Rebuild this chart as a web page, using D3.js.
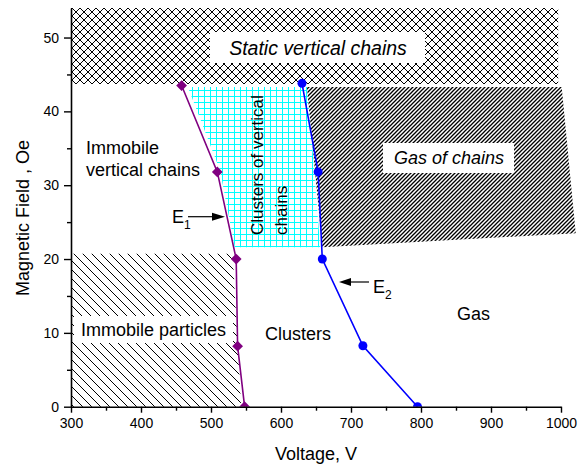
<!DOCTYPE html>
<html>
<head>
<meta charset="utf-8">
<script src="https://cdn.jsdelivr.net/npm/d3@7"></script>
<style>
  html, body { margin: 0; padding: 0; background: #fff; }
  svg { display: block; font-family: "Liberation Sans", Arial, sans-serif; }
</style>
</head>
<body>
<svg id="chart" width="586" height="464"></svg>
<script>
// Phase boundary E1 (purple diamonds)
const voltageE1 = [458, 509, 536, 538, 548];
const fieldE1   = [43.5, 31.8, 20.0, 8.2, 0];
// Phase boundary E2 (blue circles)
const voltageE2 = [630, 653, 659, 717, 795];
const fieldE2   = [43.8, 31.8, 20.0, 8.25, 0];

// Region outlines, [voltage, field]
const staticChainsRegion = [[300, 54], [996, 54], [996, 43.7], [300, 43.7]];
const clusterChainsRegion = [[467, 43.3], [638, 43.3], [656, 21.6], [534, 21.6], [513, 32.0]];
const gasChainsRegion = [[637, 43.3], [1001, 43.3], [1021, 23.5], [659, 21.6]];
const immobileRegion = [[300, 20.7], [531, 20.7], [543, 0], [300, 0]];

// Axis ticks
const xMajorTicks = [300, 400, 500, 600, 700, 800, 900, 1000];
const xMinorTicks = [350, 450, 550, 650, 750, 850, 950];
const yMajorTicks = [0, 10, 20, 30, 40, 50];
const yMinorTicks = [5, 15, 25, 35, 45];

const svg = d3.select("#chart");
const x = d3.scaleLinear().domain([300, 1000]).range([71, 561]);
const y = d3.scaleLinear().domain([0, 54]).range([406.7, 8]);

const defs = svg.append("defs");

function pattern(id, size, d, stroke, width, crisp) {
  const p = defs.append("pattern").attr("id", id)
    .attr("patternUnits", "userSpaceOnUse").attr("width", size).attr("height", size);
  p.append("rect").attr("width", size).attr("height", size).attr("fill", "#fff");
  p.append("path").attr("d", d).attr("stroke", stroke).attr("stroke-width", width)
    .attr("fill", "none").attr("shape-rendering", crisp ? "crispEdges" : "auto");
}
// cross-hatch, wide backslash hatch, dense slash hatch, cyan grid
pattern("cross", 8, "M-1,-1 L9,9 M9,-1 L-1,9", "#000", 1, true);
pattern("back", 9, "M-1,-1 L10,10 M-1,8 L1,10 M8,-1 L10,1", "#000", 1, true);
pattern("fine", 4, "M-1,5 L5,-1 M-1,1 L1,-1 M3,5 L5,3", "#000", 1.3, false);
pattern("grid", 6, "M0,0.5 H6 M0.5,0 V6", "#00ffff", 1, true);

defs.append("clipPath").attr("id", "plotClip").append("rect")
  .attr("x", 71).attr("y", 0).attr("width", 515).attr("height", 406.7);

const poly = d3.line().x(d => x(d[0])).y(d => y(d[1]));
function region(pts, fill) {
  svg.append("path").attr("d", poly(pts) + "Z").attr("fill", fill);
}
region(staticChainsRegion, "url(#cross)");
region(clusterChainsRegion, "url(#grid)");
region(gasChainsRegion, "url(#fine)");
region(immobileRegion, "url(#back)");

// white label boxes
function box(x0, y0, w, h) {
  svg.append("rect").attr("x", x0).attr("y", y0).attr("width", w).attr("height", h).attr("fill", "#fff");
}
box(210, 32, 215, 31);
box(383, 143, 131, 30);
box(74, 316, 159, 27);

function label(txt, tx, ty, opts = {}) {
  return svg.append("text").attr("x", tx).attr("y", ty)
    .attr("font-size", opts.size || 18)
    .attr("font-style", opts.italic ? "italic" : "normal")
    .attr("text-anchor", opts.anchor || "start")
    .attr("fill", "#000").text(txt);
}
label("Static vertical chains", 318, 55, {italic: true, size: 19.5, anchor: "middle"});
label("Gas of chains", 449, 164, {italic: true, anchor: "middle"});
label("Immobile particles", 81, 336);
label("Immobile", 86, 154);
label("vertical chains", 86, 176);
label("Clusters", 265, 340);
label("Gas", 457, 320);

const rot = svg.append("text").attr("transform", "translate(263,235) rotate(-90)")
  .attr("font-size", 17).attr("fill", "#000");
rot.append("tspan").attr("x", 0).attr("y", 0).text("Clusters of vertical");
rot.append("tspan").attr("x", 0).attr("y", 24).text("chains");

// E labels with arrows
function eLabel(tx, ty, sub) {
  const t = svg.append("text").attr("x", tx).attr("y", ty).attr("font-size", 18).attr("fill", "#000");
  t.append("tspan").text("E");
  t.append("tspan").attr("font-size", 12).attr("dy", 6).text(sub);
}
eLabel(172, 223, "1");
eLabel(373, 293, "2");
svg.append("line").attr("x1", 188).attr("x2", 214).attr("y1", 216.7).attr("y2", 216.7).attr("stroke", "#000").attr("stroke-width", 1.2);
svg.append("path").attr("d", "M212,212.7 L225,216.7 L212,220.7 Z").attr("fill", "#000");
svg.append("line").attr("x1", 369).attr("x2", 350).attr("y1", 282).attr("y2", 282).attr("stroke", "#000").attr("stroke-width", 1.2);
svg.append("path").attr("d", "M351,278 L339,282 L351,286 Z").attr("fill", "#000");

// boundary curves
const ptsE1 = voltageE1.map((v, i) => [v, fieldE1[i]]);
const ptsE2 = voltageE2.map((v, i) => [v, fieldE2[i]]);
const marks = svg.append("g").attr("clip-path", "url(#plotClip)");
marks.append("path").attr("d", poly(ptsE1)).attr("fill", "none").attr("stroke", "#800080").attr("stroke-width", 1.6);
marks.append("path").attr("d", poly(ptsE2)).attr("fill", "none").attr("stroke", "#0000ff").attr("stroke-width", 1.6);
const diamond = d3.symbol().type(d3.symbolSquare).size(58);
marks.selectAll(".e1").data(ptsE1).join("path").attr("class", "e1")
  .attr("d", diamond)
  .attr("transform", d => `translate(${x(d[0])},${y(d[1])}) rotate(45)`)
  .attr("fill", "#800080");
marks.selectAll(".e2").data(ptsE2).join("circle").attr("class", "e2")
  .attr("cx", d => x(d[0])).attr("cy", d => y(d[1])).attr("r", 4.5)
  .attr("fill", "#0000ff");

// axes
function styleAxis(g) {
  g.selectAll("path.domain").attr("stroke", "#000").attr("stroke-width", 1.6);
  g.selectAll(".tick line").attr("stroke", "#000").attr("stroke-width", 1.4);
  g.selectAll(".tick text").attr("font-size", 14).attr("fill", "#000")
    .attr("font-family", "Liberation Sans, Arial, sans-serif");
}
const xAxis = svg.append("g").attr("transform", "translate(0,406.7)")
  .call(d3.axisBottom(x).tickValues(xMajorTicks).tickSize(6).tickSizeOuter(0).tickPadding(5).tickFormat(d3.format("d")));
styleAxis(xAxis);
const xMinor = svg.append("g").attr("transform", "translate(0,406.7)")
  .call(d3.axisBottom(x).tickValues(xMinorTicks).tickSize(4).tickFormat(""));
xMinor.select("path.domain").remove();
styleAxis(xMinor);

const yAxis = svg.append("g").attr("transform", "translate(71,0)")
  .call(d3.axisLeft(y).tickValues(yMajorTicks).tickSize(7).tickSizeOuter(0).tickPadding(5));
styleAxis(yAxis);
const yMinor = svg.append("g").attr("transform", "translate(71,0)")
  .call(d3.axisLeft(y).tickValues(yMinorTicks).tickSize(4).tickFormat(""));
yMinor.select("path.domain").remove();
styleAxis(yMinor);

svg.append("text").attr("x", 316).attr("y", 460).attr("text-anchor", "middle")
  .attr("font-size", 18).attr("fill", "#000").text("Voltage, V");
svg.append("text").attr("transform", "translate(29,218) rotate(-90)").attr("text-anchor", "middle")
  .attr("font-size", 18).attr("fill", "#000").text("Magnetic Field , Oe");
</script>
</body>
</html>
